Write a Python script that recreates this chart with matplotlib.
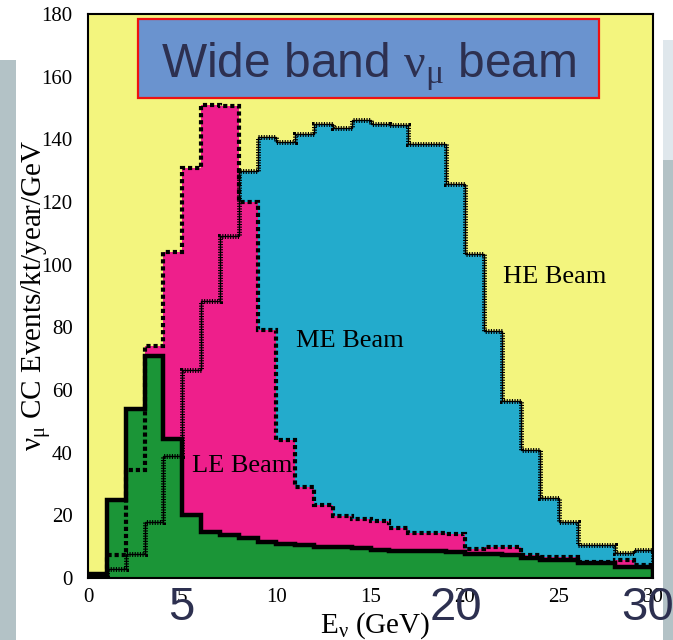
import matplotlib
matplotlib.use("Agg")
import matplotlib.pyplot as plt
import numpy as np
from matplotlib.patches import Rectangle

# Neutrino energy bins (GeV) and nu_mu CC event rates per bin
energy_edges = np.arange(0, 31, 1)

he_rate = [0.5, 2.8, 7.6, 18.0, 39.0, 66.5, 88.3, 109.0, 130.0, 140.7,
           139.3, 141.6, 145.0, 143.5, 146.2, 145.0, 144.5, 138.4, 138.4, 125.6,
           103.3, 78.7, 56.4, 40.9, 25.6, 18.0, 10.5, 10.5, 8.0, 9.0]

me_rate = [0.5, 7.3, 34.5, 74.0, 104.0, 131.0, 151.0, 150.5, 120.0, 79.0,
           44.0, 29.0, 23.3, 19.8, 18.9, 18.3, 16.0, 14.4, 14.4, 14.0,
           9.3, 10.0, 9.9, 7.4, 6.7, 6.8, 5.2, 5.2, 5.8, 4.2]

le_rate = [1.3, 25.0, 54.0, 71.0, 44.5, 20.0, 14.8, 13.8, 12.7, 11.5,
           11.0, 10.5, 10.0, 9.8, 9.5, 9.0, 8.7, 8.5, 8.7, 8.4,
           7.7, 7.7, 7.5, 6.3, 5.8, 5.8, 4.9, 4.9, 3.5, 3.4]

x_ticks = [0, 5, 10, 15, 20, 25, 30]
y_ticks = [0, 20, 40, 60, 80, 100, 120, 140, 160, 180]
big_labels = ["5", "20", "30"]

serif = 'Liberation Serif'
sans = 'Liberation Sans'
plt.rcParams['mathtext.fontset'] = 'custom'
plt.rcParams['mathtext.rm'] = serif
plt.rcParams['mathtext.it'] = serif + ':italic'
plt.rcParams['mathtext.bf'] = serif + ':bold'
navy = '#2d3050'

W, H = 673, 640
fig = plt.figure(figsize=(W / 100, H / 100), dpi=100)
fig.patch.set_facecolor('white')

# side strips of the slide background
fig.add_artist(Rectangle((0, 0), 16 / W, 1 - 60 / H, transform=fig.transFigure,
                         facecolor='#b3c2c6', edgecolor='none', zorder=0))
fig.add_artist(Rectangle(((W - 10) / W, 0), 10 / W, 1 - 160 / H, transform=fig.transFigure,
                         facecolor='#b3c2c6', edgecolor='none', zorder=0))
fig.add_artist(Rectangle(((W - 10) / W, 1 - 160 / H), 10 / W, 120 / H, transform=fig.transFigure,
                         facecolor='#dfe7ec', edgecolor='none', zorder=0))

ax = fig.add_axes([88 / W, 1 - 578 / H, (653 - 88) / W, (578 - 14) / H])
ax.set_facecolor('#f3f57e')
ax.set_xlim(0, 30)
ax.set_ylim(0, 180)

# filled histograms
ax.stairs(he_rate, energy_edges, fill=True, color='#23abcc', lw=0)
ax.stairs(me_rate, energy_edges, fill=True, color='#ee1f8b', lw=0)
ax.stairs(le_rate, energy_edges, fill=True, color='#1b9537', lw=0)

# outlines
ax.stairs(he_rate, energy_edges, baseline=0, color='black', lw=1.0)
ax.stairs(he_rate, energy_edges, baseline=0, color='black', lw=3.6,
          linestyle=(0, (0.22, 0.3)))
ax.stairs(me_rate, energy_edges, baseline=0, color='black', lw=3.0,
          linestyle=(0, (1.0, 0.7)))
ax.stairs(le_rate, energy_edges, baseline=0, color='black', lw=3.2)

for s in ax.spines.values():
    s.set_linewidth(1.5)
    s.set_color('black')
    s.set_zorder(5)

ax.set_xticks(x_ticks)
ax.set_yticks(y_ticks)
ax.set_xticklabels([str(v) for v in x_ticks], family=serif, fontsize=15)
ax.set_yticklabels([str(v) for v in y_ticks], family=serif, fontsize=15)
ax.tick_params(axis='both', length=0)
ax.tick_params(axis='x', pad=7)
ax.tick_params(axis='y', pad=11)

# beam labels
ax.text(13.9, 73.8, 'ME Beam', family=serif, fontsize=19, ha='center', va='baseline')
ax.text(24.8, 94.3, 'HE Beam', family=serif, fontsize=19, ha='center', va='baseline')
ax.text(8.2, 33.9, 'LE Beam', family=serif, fontsize=19, ha='center', va='baseline')

# axis titles
fig.text(375 / W, 1 - 633 / H, r'E$_{\mathrm{\nu}}$ (GeV)', family=serif, fontsize=21,
         ha='center', va='baseline')
fig.text(42 / W, 1 - 295 / H, r'$\mathrm{\nu_{\mu}}$ CC Events/kt/year/GeV', family=serif,
         fontsize=21, rotation=90, rotation_mode='anchor', ha='center', va='baseline')

# title box
fig.add_artist(Rectangle((138 / W, 1 - 98 / H), (599 - 138) / W, (98 - 19) / H,
                         transform=fig.transFigure, facecolor='#6a93cf',
                         edgecolor='#ee1111', lw=1.6, zorder=2))
fig.text(368.5 / W, 1 - 77 / H, r'Wide band $\mathrm{\nu_{\mu}}$ beam', family=sans,
         fontsize=34.5, color=navy, ha='center', va='baseline', zorder=3)

# large overlaid axis numbers
for lab, xp in zip(big_labels, [181.5, 456, 647.5]):
    fig.text(xp / W, 1 - 620 / H, lab, family=sans, fontsize=34, color=navy,
             ha='center', va='baseline', zorder=3)

fig.savefig('out.png', dpi=100)
